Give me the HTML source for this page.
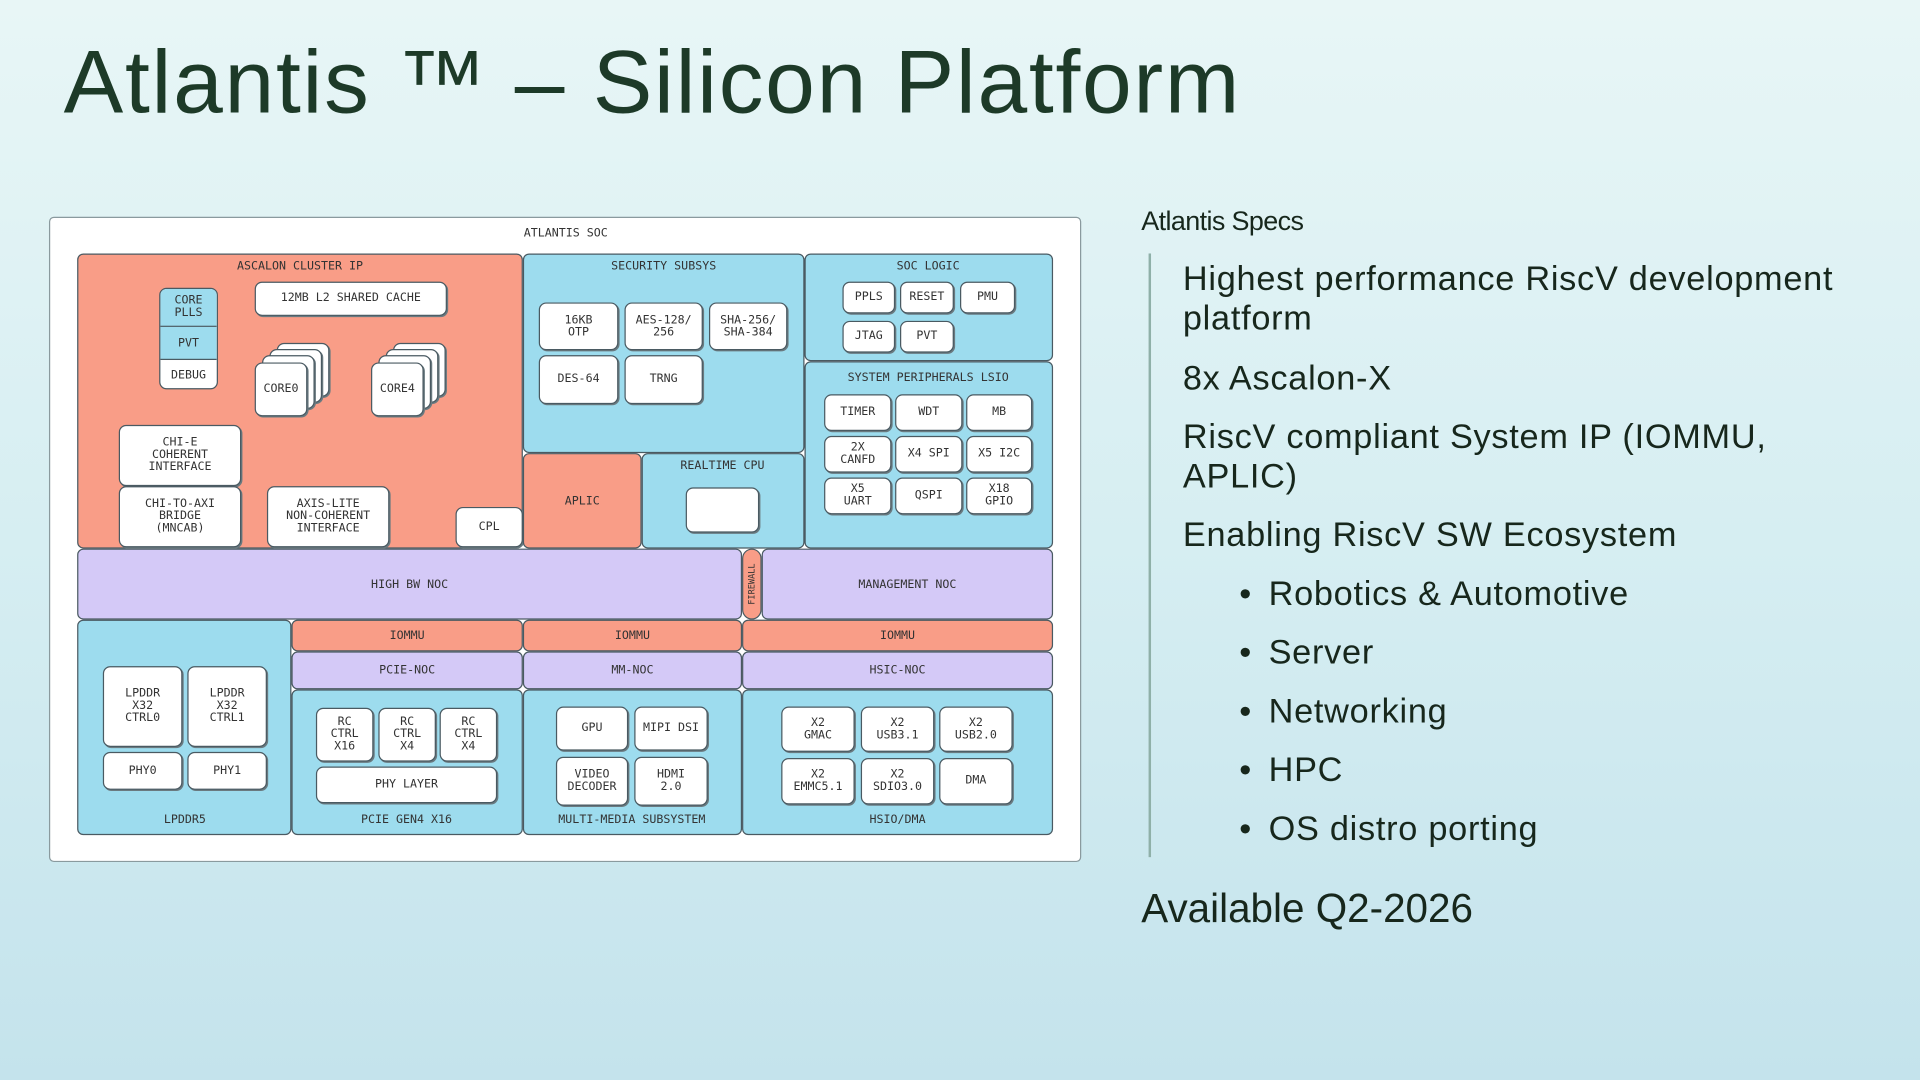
<!DOCTYPE html>
<html><head><meta charset="utf-8"><style>
html,body{margin:0;padding:0;width:1920px;height:1080px;overflow:hidden;}
body{background:linear-gradient(180deg,#e8f6f6 0%,#d6eef2 50%,#c4e3ec 100%);}
#s{position:absolute;left:0;top:0;width:1568px;height:882px;transform:scale(1.2245);transform-origin:0 0;font-family:"Liberation Sans",sans-serif;}
.a{position:absolute;box-sizing:border-box;}
.r{position:absolute;box-sizing:border-box;border:1px solid #4a5a62;border-radius:5px;}
.s{background:#f99d87}.bl{background:#9ddcee}.lv{background:#d4c9f7}.w{background:#fff}
.b{position:absolute;box-sizing:border-box;border:1.2px solid #4a5a62;border-radius:6px;background:#fff;display:flex;align-items:center;justify-content:center;text-align:center;font-family:"DejaVu Sans Mono","Liberation Mono",monospace;font-size:9.5px;line-height:10px;color:#333;box-shadow:1px 1px 0 #6a7a80;}
.t{position:absolute;font-family:"DejaVu Sans Mono","Liberation Mono",monospace;font-size:9.5px;color:#333;text-align:center;white-space:nowrap;transform:translateX(-50%);}
.c{display:flex;align-items:center;justify-content:center;font-family:"DejaVu Sans Mono","Liberation Mono",monospace;font-size:9.5px;color:#333;}
.txt{position:absolute;color:#17271c;white-space:nowrap;font-size:28px;letter-spacing:0.6px;}
.bul{position:absolute;color:#17271c;font-size:28px;}
</style></head><body><div id="s">
<div class="a" style="left:52px;top:26px;font-size:73px;color:#1d3a28;white-space:nowrap;letter-spacing:1.4px">Atlantis ™ – Silicon Platform</div>

<div class="a" style="left:40px;top:177px;width:843px;height:527px;background:#fff;border:1px solid #8a9a9e;border-radius:4px"></div>
<div class="t" style="left:462px;top:185px">ATLANTIS SOC</div>

<!-- Ascalon -->
<div class="r s" style="left:63px;top:207px;width:364px;height:241px"></div>
<div class="t" style="left:245px;top:212px">ASCALON CLUSTER IP</div>
<div class="b" style="left:208px;top:230px;width:157px;height:28px">12MB L2 SHARED CACHE</div>
<div class="a" style="left:130px;top:235px;width:48px;height:83px;border:1.2px solid #4a5a62;border-radius:6px;overflow:hidden;background:#fff">
<div class="c bl" style="height:30px;line-height:10px;border-bottom:1px solid #4a5a62">CORE<br>PLLS</div>
<div class="c bl" style="height:26px;border-bottom:1px solid #4a5a62">PVT</div>
<div class="c" style="height:25px">DEBUG</div></div>
<div class="b" style="left:226px;top:280px;width:43px;height:44px"></div>
<div class="b" style="left:220px;top:285px;width:43px;height:44px"></div>
<div class="b" style="left:214px;top:290px;width:43px;height:44px"></div>
<div class="b" style="left:208px;top:296px;width:43px;height:44px">CORE0</div>
<div class="b" style="left:321px;top:280px;width:43px;height:44px"></div>
<div class="b" style="left:315px;top:285px;width:43px;height:44px"></div>
<div class="b" style="left:309px;top:290px;width:43px;height:44px"></div>
<div class="b" style="left:303px;top:296px;width:43px;height:44px">CORE4</div>
<div class="b" style="left:97px;top:347px;width:100px;height:50px">CHI-E<br>COHERENT<br>INTERFACE</div>
<div class="b" style="left:97px;top:397px;width:100px;height:50px">CHI-TO-AXI<br>BRIDGE<br>(MNCAB)</div>
<div class="b" style="left:218px;top:397px;width:100px;height:50px">AXIS-LITE<br>NON-COHERENT<br>INTERFACE</div>
<div class="b" style="left:372px;top:414px;width:55px;height:33px">CPL</div>

<!-- Security -->
<div class="r bl" style="left:427px;top:207px;width:230px;height:163px"></div>
<div class="t" style="left:542px;top:212px">SECURITY SUBSYS</div>
<div class="b" style="left:440px;top:247px;width:65px;height:39px">16KB<br>OTP</div>
<div class="b" style="left:510px;top:247px;width:64px;height:39px">AES-128/<br>256</div>
<div class="b" style="left:579px;top:247px;width:64px;height:39px">SHA-256/<br>SHA-384</div>
<div class="b" style="left:440px;top:290px;width:65px;height:40px">DES-64</div>
<div class="b" style="left:510px;top:290px;width:64px;height:40px">TRNG</div>

<!-- SOC logic -->
<div class="r bl" style="left:657px;top:207px;width:203px;height:88px"></div>
<div class="t" style="left:758px;top:212px">SOC LOGIC</div>
<div class="b" style="left:688px;top:230px;width:43px;height:26px">PPLS</div>
<div class="b" style="left:735px;top:230px;width:44px;height:26px">RESET</div>
<div class="b" style="left:784px;top:230px;width:45px;height:26px">PMU</div>
<div class="b" style="left:688px;top:262px;width:43px;height:26px">JTAG</div>
<div class="b" style="left:735px;top:262px;width:44px;height:26px">PVT</div>

<div class="r bl" style="left:657px;top:295px;width:203px;height:153px"></div>
<div class="t" style="left:758px;top:303px">SYSTEM PERIPHERALS LSIO</div>
<div class="b" style="left:673px;top:322px;width:55px;height:30px">TIMER</div>
<div class="b" style="left:731px;top:322px;width:55px;height:30px">WDT</div>
<div class="b" style="left:789px;top:322px;width:54px;height:30px">MB</div>
<div class="b" style="left:673px;top:356px;width:55px;height:30px">2X<br>CANFD</div>
<div class="b" style="left:731px;top:356px;width:55px;height:30px">X4 SPI</div>
<div class="b" style="left:789px;top:356px;width:54px;height:30px">X5 I2C</div>
<div class="b" style="left:673px;top:390px;width:55px;height:30px">X5<br>UART</div>
<div class="b" style="left:731px;top:390px;width:55px;height:30px">QSPI</div>
<div class="b" style="left:789px;top:390px;width:54px;height:30px">X18<br>GPIO</div>

<div class="r s c" style="left:427px;top:370px;width:97px;height:78px">APLIC</div>
<div class="r bl" style="left:524px;top:370px;width:133px;height:78px"></div>
<div class="t" style="left:590px;top:375px">REALTIME CPU</div>
<div class="b" style="left:560px;top:398px;width:60px;height:37px"></div>

<!-- NOC -->
<div class="r lv c" style="left:63px;top:448px;width:543px;height:58px">HIGH BW NOC</div>
<div class="r s" style="left:606px;top:448px;width:16px;height:58px;border-radius:8px"></div>
<div class="a" style="left:614px;top:477px;transform:translate(-50%,-50%) rotate(-90deg);font-family:'DejaVu Sans Mono',monospace;font-size:7px;color:#333;white-space:nowrap">FIREWALL</div>
<div class="r lv c" style="left:622px;top:448px;width:238px;height:58px">MANAGEMENT NOC</div>

<!-- bottom -->
<div class="r bl" style="left:63px;top:506px;width:175px;height:176px"></div>
<div class="t" style="left:151px;top:664px">LPDDR5</div>
<div class="b" style="left:84px;top:544px;width:65px;height:66px">LPDDR<br>X32<br>CTRL0</div>
<div class="b" style="left:153px;top:544px;width:65px;height:66px">LPDDR<br>X32<br>CTRL1</div>
<div class="b" style="left:84px;top:614px;width:65px;height:31px">PHY0</div>
<div class="b" style="left:153px;top:614px;width:65px;height:31px">PHY1</div>

<div class="r s c" style="left:238px;top:506px;width:189px;height:26px">IOMMU</div>
<div class="r s c" style="left:427px;top:506px;width:179px;height:26px">IOMMU</div>
<div class="r s c" style="left:606px;top:506px;width:254px;height:26px">IOMMU</div>
<div class="r lv c" style="left:238px;top:532px;width:189px;height:31px">PCIE-NOC</div>
<div class="r lv c" style="left:427px;top:532px;width:179px;height:31px">MM-NOC</div>
<div class="r lv c" style="left:606px;top:532px;width:254px;height:31px">HSIC-NOC</div>
<div class="r bl" style="left:238px;top:563px;width:189px;height:119px"></div>
<div class="r bl" style="left:427px;top:563px;width:179px;height:119px"></div>
<div class="r bl" style="left:606px;top:563px;width:254px;height:119px"></div>
<div class="t" style="left:332px;top:664px">PCIE GEN4 X16</div>
<div class="t" style="left:516px;top:664px">MULTI-MEDIA SUBSYSTEM</div>
<div class="t" style="left:733px;top:664px">HSIO/DMA</div>

<div class="b" style="left:258px;top:578px;width:47px;height:44px">RC<br>CTRL<br>X16</div>
<div class="b" style="left:309px;top:578px;width:47px;height:44px">RC<br>CTRL<br>X4</div>
<div class="b" style="left:359px;top:578px;width:47px;height:44px">RC<br>CTRL<br>X4</div>
<div class="b" style="left:258px;top:626px;width:148px;height:30px">PHY LAYER</div>

<div class="b" style="left:454px;top:577px;width:59px;height:36px">GPU</div>
<div class="b" style="left:518px;top:577px;width:60px;height:36px">MIPI DSI</div>
<div class="b" style="left:454px;top:618px;width:59px;height:40px">VIDEO<br>DECODER</div>
<div class="b" style="left:518px;top:618px;width:60px;height:40px">HDMI<br>2.0</div>

<div class="b" style="left:638px;top:577px;width:60px;height:37px">X2<br>GMAC</div>
<div class="b" style="left:703px;top:577px;width:60px;height:37px">X2<br>USB3.1</div>
<div class="b" style="left:767px;top:577px;width:60px;height:37px">X2<br>USB2.0</div>
<div class="b" style="left:638px;top:619px;width:60px;height:38px">X2<br>EMMC5.1</div>
<div class="b" style="left:703px;top:619px;width:60px;height:38px">X2<br>SDIO3.0</div>
<div class="b" style="left:767px;top:619px;width:60px;height:38px">DMA</div>

<!-- right -->
<div class="txt" style="left:932px;top:168px;font-size:22px;letter-spacing:-0.5px">Atlantis Specs</div>
<div class="a" style="left:938px;top:207px;width:2px;height:493px;background:#8fb0a8"></div>
<div class="txt" style="left:966px;top:212px;line-height:32px">Highest performance RiscV development<br>platform</div>
<div class="txt" style="left:966px;top:293px;line-height:32px">8x Ascalon-X</div>
<div class="txt" style="left:966px;top:341px;line-height:32px">RiscV compliant System IP (IOMMU,<br>APLIC)</div>
<div class="txt" style="left:966px;top:421px;line-height:32px">Enabling RiscV SW Ecosystem</div>
<div class="bul" style="left:1012px;top:469px;line-height:32px">•</div><div class="txt" style="left:1036px;top:469px;line-height:32px">Robotics &amp; Automotive</div>
<div class="bul" style="left:1012px;top:517px;line-height:32px">•</div><div class="txt" style="left:1036px;top:517px;line-height:32px">Server</div>
<div class="bul" style="left:1012px;top:565px;line-height:32px">•</div><div class="txt" style="left:1036px;top:565px;line-height:32px">Networking</div>
<div class="bul" style="left:1012px;top:613px;line-height:32px">•</div><div class="txt" style="left:1036px;top:613px;line-height:32px">HPC</div>
<div class="bul" style="left:1012px;top:661px;line-height:32px">•</div><div class="txt" style="left:1036px;top:661px;line-height:32px">OS distro porting</div>
<div class="txt" style="left:932px;top:722px;font-size:33px;line-height:40px;letter-spacing:0">Available Q2-2026</div>
</div></body></html>
